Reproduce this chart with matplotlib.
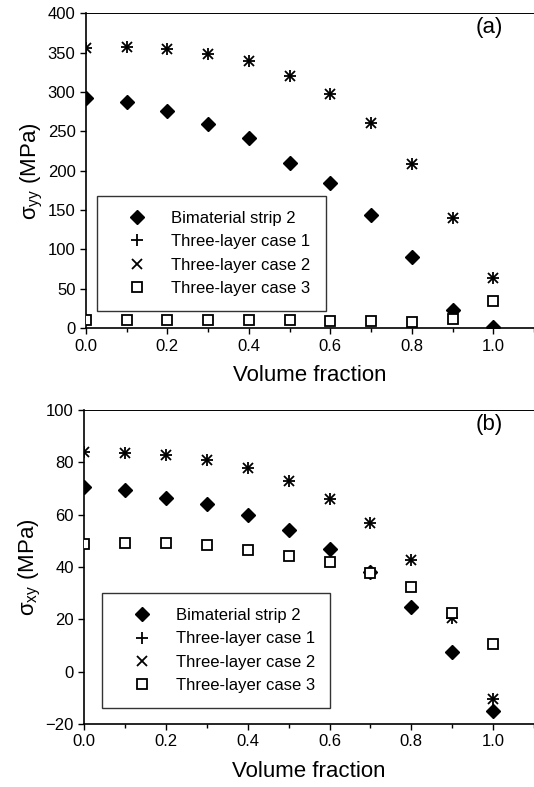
import matplotlib
matplotlib.use("Agg")
import matplotlib.pyplot as plt
from matplotlib.ticker import MultipleLocator

plt.rcParams['font.family'] = ['Liberation Sans', 'DejaVu Sans']
plt.rcParams['mathtext.fontset'] = 'custom'
plt.rcParams['mathtext.rm'] = 'Liberation Sans'
plt.rcParams['mathtext.it'] = 'Liberation Sans:italic'

# volume fraction
vf = [0.0, 0.1, 0.2, 0.3, 0.4, 0.5, 0.6, 0.7, 0.8, 0.9, 1.0]

# (a) sigma_yy in MPa
syy_bimat = [293, 287, 276, 260, 242, 210, 185, 144, 91, 23, 2]
syy_case1 = [356, 357, 355, 348, 340, 320, 297, 261, 208, 140, 64]
syy_case2 = [356, 357, 355, 348, 340, 320, 297, 261, 208, 140, 64]
syy_case3 = [10, 10, 10, 10.5, 10.5, 10, 8.5, 9, 7.5, 12, 35]

# (b) sigma_xy in MPa
sxy_bimat = [70.7, 69.5, 66.3, 64.1, 59.7, 54.2, 46.8, 38, 24.9, 7.7, -14.9]
sxy_case1 = [83.8, 83.7, 82.8, 80.9, 77.7, 73.0, 66.0, 56.7, 42.5, 20.5, -10.4]
sxy_case2 = [83.8, 83.7, 82.8, 80.9, 77.7, 73.0, 66.0, 56.7, 42.5, 20.5, -10.4]
sxy_case3 = [48.7, 49.1, 49.1, 48.3, 46.5, 44.4, 41.8, 37.9, 32.2, 22.6, 10.6]

labels = ['Bimaterial strip 2', 'Three-layer case 1',
          'Three-layer case 2', 'Three-layer case 3']

fig = plt.figure(figsize=(5.34, 7.87), dpi=100)
ax1 = fig.add_axes([0.161, 0.583, 0.839, 0.400])
ax2 = fig.add_axes([0.158, 0.080, 0.842, 0.399])


def draw(ax, ys, ylim, ystep, ylabel, tag, leg_anchor):
    b, c1, c2, c3 = ys
    ax.plot(vf, b, ls='none', marker='D', ms=7.5, color='black', label=labels[0], zorder=3)
    ax.plot(vf, c1, ls='none', marker='+', ms=8.5, mew=1.3, color='black', label=labels[1], zorder=4)
    ax.plot(vf, c2, ls='none', marker='x', ms=7.5, mew=1.3, color='black', label=labels[2], zorder=4)
    # squares sit on top of everything (white face hides overlaps)
    ax.plot(vf, c3, ls='none', marker='s', ms=7, mfc='white', mec='black', mew=1.3,
            label=labels[3], zorder=5)

    ax.set_xlim(0, 1.1)
    ax.set_ylim(*ylim)
    ax.set_xticks([0.0, 0.2, 0.4, 0.6, 0.8, 1.0])
    ax.xaxis.set_minor_locator(MultipleLocator(0.1))
    ax.yaxis.set_major_locator(MultipleLocator(ystep))
    ax.tick_params(axis='both', which='major', direction='out', length=4.5, width=1.0,
                   labelsize=12, pad=3)
    ax.tick_params(axis='x', which='minor', direction='out', length=3, width=1.0)
    ax.set_xticklabels(['0.0', '0.2', '0.4', '0.6', '0.8', '1.0'])

    ax.spines['right'].set_visible(False)
    ax.spines['top'].set_linewidth(0.7)
    ax.spines['left'].set_linewidth(1.2)
    ax.spines['bottom'].set_linewidth(1.2)

    ax.set_xlabel('Volume fraction', fontsize=16, labelpad=8)
    ax.set_ylabel(ylabel, fontsize=16, labelpad=2)
    ax.text(0.90, 0.955, tag, transform=ax.transAxes, fontsize=16,
            ha='center', va='center')

    leg = ax.legend(loc='upper left', bbox_to_anchor=leg_anchor,
                    bbox_transform=fig.transFigure, fontsize=12,
                    frameon=True, fancybox=False, borderpad=0.9,
                    handlelength=3.0, handletextpad=0.55, labelspacing=0.5,
                    borderaxespad=0)
    leg.get_frame().set_edgecolor('black')
    leg.get_frame().set_linewidth(1.0)


draw(ax1, (syy_bimat, syy_case1, syy_case2, syy_case3), (0, 400), 50,
     r'$\mathregular{\sigma_{yy}}$ (MPa)', '(a)', (0.182, 0.751))
draw(ax2, (sxy_bimat, sxy_case1, sxy_case2, sxy_case3), (-20, 100), 20,
     r'$\mathregular{\sigma_{xy}}$ (MPa)', '(b)', (0.191, 0.2465))

fig.savefig('out.png', dpi=100)
